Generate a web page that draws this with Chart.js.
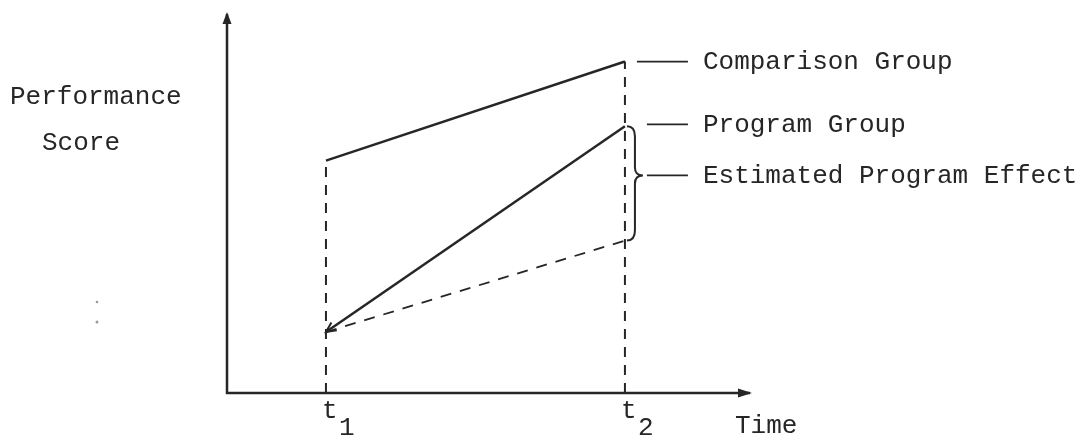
<!DOCTYPE html>
<html>
<head>
<meta charset="utf-8">
<script src="https://cdn.jsdelivr.net/npm/chart.js@4/dist/chart.umd.min.js"></script>
<style>
  html, body { margin: 0; padding: 0; background: #ffffff; }
  #wrap { width: 1086px; height: 438px; }
</style>
</head>
<body>
<div id="wrap"><canvas id="c" width="1086" height="438"></canvas></div>
<script>
// ---- data ----
const timeLabels = ['t', 't'];
const timeSubs = ['1', '2'];
const timeValues = [1, 2];
const comparisonGroup = [61, 87];
const programGroup = [16, 70];
const estimatedNoProgram = [16, 40];
const seriesNames = ['Comparison Group', 'Program Group', 'Estimated Program Effect'];
const yAxisTitle = ['Performance', 'Score'];
const xAxisTitle = 'Time';

const INK = '#262626';
const FONT = '26px "Liberation Mono", "DejaVu Sans Mono", monospace';

function pts(vals) { return vals.map((v, i) => ({ x: timeValues[i], y: v })); }

const diagram = {
  id: 'diagram',
  afterDatasetsDraw(chart) {
    const { ctx, chartArea: a, scales: { x, y } } = chart;
    ctx.save();
    ctx.strokeStyle = INK;
    ctx.fillStyle = INK;
    ctx.lineWidth = 2.5;
    ctx.setLineDash([]);
    // axes
    ctx.beginPath();
    ctx.moveTo(a.left, a.top + 2);
    ctx.lineTo(a.left, a.bottom);
    ctx.lineTo(a.right - 2, a.bottom);
    ctx.stroke();
    // arrowheads
    ctx.beginPath();
    ctx.moveTo(a.left, a.top);
    ctx.lineTo(a.left - 4.5, a.top + 12);
    ctx.lineTo(a.left + 4.5, a.top + 12);
    ctx.closePath();
    ctx.fill();
    ctx.beginPath();
    ctx.moveTo(a.right, a.bottom);
    ctx.lineTo(a.right - 14, a.bottom - 4.5);
    ctx.lineTo(a.right - 14, a.bottom + 4.5);
    ctx.closePath();
    ctx.fill();

    // small arrowhead at program group start
    const px0 = x.getPixelForValue(timeValues[0]);
    const py0 = y.getPixelForValue(programGroup[0]);
    const px1 = x.getPixelForValue(timeValues[1]);
    const py1 = y.getPixelForValue(programGroup[1]);
    const ang = Math.atan2(py0 - py1, px0 - px1);
    ctx.lineWidth = 2;
    ctx.beginPath();
    const L = 11;
    ctx.moveTo(px0 + L * Math.cos(ang + Math.PI - 0.45), py0 + L * Math.sin(ang + Math.PI - 0.45));
    ctx.lineTo(px0, py0);
    ctx.lineTo(px0 + L * Math.cos(ang + Math.PI + 0.45), py0 + L * Math.sin(ang + Math.PI + 0.45));
    ctx.stroke();

    // brace at t2 between program and estimated
    const t2 = x.getPixelForValue(timeValues[1]);
    const yTop = y.getPixelForValue(programGroup[1]);
    const yBot = y.getPixelForValue(estimatedNoProgram[1]);
    const yMid = yTop + (yBot - yTop) * 0.43;
    const bx = t2 + 10;
    ctx.lineWidth = 2;
    ctx.beginPath();
    ctx.moveTo(t2 + 2, yTop);
    ctx.quadraticCurveTo(bx, yTop, bx, yTop + 10);
    ctx.lineTo(bx, yMid - 8);
    ctx.quadraticCurveTo(bx, yMid, bx + 8, yMid);
    ctx.quadraticCurveTo(bx, yMid, bx, yMid + 8);
    ctx.lineTo(bx, yBot - 10);
    ctx.quadraticCurveTo(bx, yBot, t2 + 2, yBot);
    ctx.stroke();

    // leader lines + labels
    const yComp = y.getPixelForValue(comparisonGroup[1]);
    const leaders = [
      { x0: t2 + 12, y: yComp, text: seriesNames[0] },
      { x0: t2 + 22, y: yTop - 2, text: seriesNames[1] },
      { x0: bx + 12, y: yMid, text: seriesNames[2] }
    ];
    ctx.font = FONT;
    ctx.textBaseline = 'middle';
    ctx.textAlign = 'left';
    ctx.lineWidth = 1.8;
    leaders.forEach(l => {
      ctx.beginPath();
      ctx.moveTo(l.x0, l.y);
      ctx.lineTo(t2 + 63, l.y);
      ctx.stroke();
      ctx.fillText(l.text, t2 + 78, l.y + 1);
    });

    // y axis title
    ctx.textBaseline = 'alphabetic';
    ctx.fillText(yAxisTitle[0], 10, 104);
    ctx.fillText(yAxisTitle[1], 42, 150);

    // x tick labels with subscripts
    timeValues.forEach((v, i) => {
      const tx = x.getPixelForValue(v);
      ctx.font = FONT;
      ctx.textAlign = 'left';
      ctx.fillText(timeLabels[i], tx - 4, 418);
      ctx.fillText(timeSubs[i], tx + 13, 435);
    });
    // x axis title
    ctx.fillText(xAxisTitle, a.right - 17, 433);

    // scan specks
    ctx.fillStyle = '#9a9a9a';
    ctx.beginPath(); ctx.arc(97, 302, 1.3, 0, Math.PI * 2); ctx.fill();
    ctx.beginPath(); ctx.arc(97, 322, 1.5, 0, Math.PI * 2); ctx.fill();
    ctx.restore();
  }
};

new Chart(document.getElementById('c'), {
  type: 'scatter',
  data: {
    datasets: [
      { label: seriesNames[0], data: pts(comparisonGroup), showLine: true, borderColor: INK, borderWidth: 2.5, pointRadius: 0 },
      { label: seriesNames[1], data: pts(programGroup), showLine: true, borderColor: INK, borderWidth: 2.5, pointRadius: 0 },
      { label: 'Projected', data: pts(estimatedNoProgram), showLine: true, borderColor: INK, borderWidth: 1.8, borderDash: [11, 9], pointRadius: 0 },
      { label: 'drop t1', data: [{ x: timeValues[0], y: 0 }, { x: timeValues[0], y: comparisonGroup[0] }], showLine: true, borderColor: INK, borderWidth: 2, borderDash: [10, 8], pointRadius: 0 },
      { label: 'drop t2', data: [{ x: timeValues[1], y: 0 }, { x: timeValues[1], y: comparisonGroup[1] }], showLine: true, borderColor: INK, borderWidth: 2, borderDash: [10, 8], pointRadius: 0 }
    ]
  },
  options: {
    responsive: false,
    animation: false,
    devicePixelRatio: 1,
    layout: { padding: { left: 227, right: 334, top: 12, bottom: 45 } },
    plugins: { legend: { display: false }, tooltip: { enabled: false } },
    scales: {
      x: { type: 'linear', min: 0.669, max: 2.425, display: false },
      y: { type: 'linear', min: 0, max: 100, display: false }
    },
    elements: { line: { tension: 0 } }
  },
  plugins: [diagram]
});
</script>
</body>
</html>
